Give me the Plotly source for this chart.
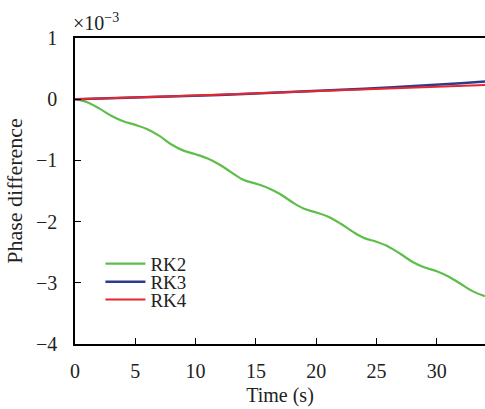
import plotly.graph_objects as go

# Phase difference (in units of 1e-3) versus time for three Runge-Kutta schemes
t_rk2 = list(range(0, 35))
rk2 = [0, -0.05, -0.15, -0.27, -0.36, -0.42, -0.49, -0.60, -0.74, -0.84,
       -0.90, -0.97, -1.07, -1.20, -1.32, -1.38, -1.45, -1.55, -1.68, -1.79,
       -1.85, -1.92, -2.03, -2.16, -2.27, -2.33, -2.41, -2.53, -2.66, -2.75,
       -2.81, -2.90, -3.02, -3.14, -3.22]

t_rk34 = [0, 2, 4, 6, 8, 10, 12, 14, 16, 18, 20, 22, 24, 26, 28, 30, 32, 34]
rk3 = [0, 0.010, 0.025, 0.035, 0.050, 0.060, 0.070, 0.085, 0.100, 0.115,
       0.130, 0.150, 0.170, 0.190, 0.210, 0.235, 0.260, 0.290]
rk4 = [0, 0.015, 0.030, 0.040, 0.050, 0.060, 0.075, 0.085, 0.100, 0.110,
       0.125, 0.140, 0.155, 0.170, 0.185, 0.200, 0.215, 0.230]

x_ticks = [0, 5, 10, 15, 20, 25, 30]
y_ticks = [1, 0, -1, -2, -3, -4]
y_tick_text = ["1", "0", "\u22121", "\u22122", "\u22123", "\u22124"]

FONT = '"Liberation Serif", "Times New Roman", Times, serif'
INK = "#222"

fig = go.Figure()
fig.add_trace(go.Scatter(x=t_rk2, y=rk2, mode="lines", name="RK2", legend="legend",
                         line=dict(color="#5DBE4A", width=2.2, shape="spline")))
fig.add_trace(go.Scatter(x=t_rk34, y=rk3, mode="lines", name="RK3", legend="legend2",
                         line=dict(color="#2E3A8C", width=2.5)))
fig.add_trace(go.Scatter(x=t_rk34, y=rk4, mode="lines", name="RK4", legend="legend3",
                         line=dict(color="#E8262B", width=2)))

# one compact legend box per series, stacked tightly
legend_style = dict(x=0.062, xanchor="left", yanchor="middle",
                    bgcolor="rgba(0,0,0,0)", font=dict(family=FONT, size=19, color=INK),
                    itemwidth=40, borderwidth=0)

fig.update_layout(
    width=485, height=409,
    margin=dict(l=75, r=0, t=38, b=65),
    paper_bgcolor="white", plot_bgcolor="white",
    font=dict(family=FONT, size=20, color=INK),
    showlegend=True,
    legend=dict(y=0.262, **legend_style),
    legend2=dict(y=0.203, **legend_style),
    legend3=dict(y=0.145, **legend_style),
    xaxis=dict(range=[0, 34], tickvals=x_ticks, showline=True, linecolor="black",
               linewidth=1.5, mirror=True, ticks="inside", ticklen=6,
               tickcolor="black", showgrid=False, zeroline=False,
               ticklabelstandoff=8,
               tickfont=dict(family=FONT, size=20, color=INK),
               title=dict(text="Time (s)", standoff=7, font=dict(family=FONT, size=20, color=INK))),
    yaxis=dict(range=[-4, 1], tickvals=y_ticks, ticktext=y_tick_text,
               showline=True, linecolor="black", linewidth=1.5,
               ticks="inside", ticklen=6, tickcolor="black",
               showgrid=False, zeroline=False,
               ticklabelstandoff=12,
               tickfont=dict(family=FONT, size=20, color=INK),
               title=dict(text="Phase difference", standoff=7, font=dict(family=FONT, size=22, color=INK))),
    annotations=[dict(text="\u00d710<sup>\u22123</sup>", xref="paper", yref="paper",
                      x=-0.01, y=1.0, xanchor="left", yanchor="bottom",
                      showarrow=False, font=dict(family=FONT, size=20, color=INK), yshift=2)],
)

fig.write_html("out.html")
